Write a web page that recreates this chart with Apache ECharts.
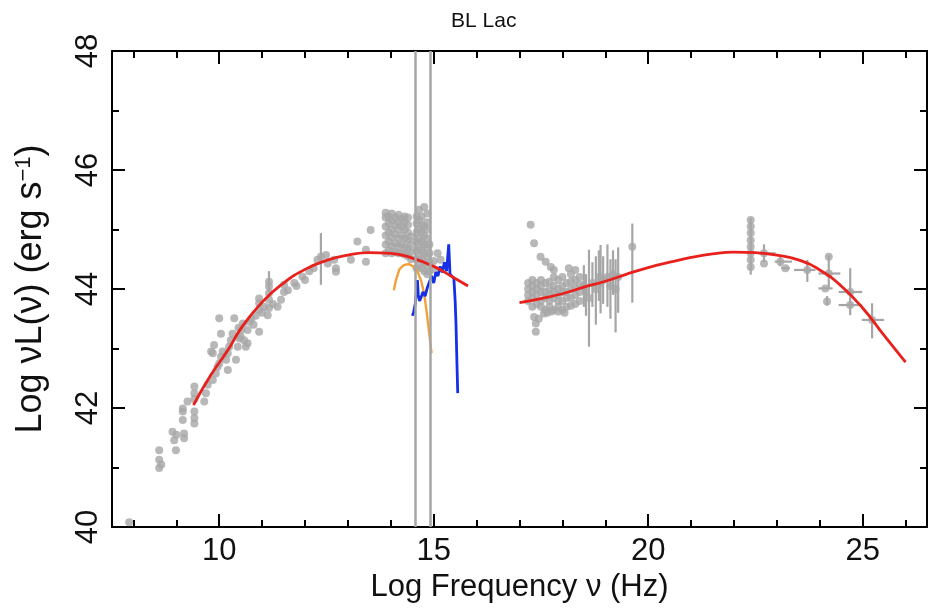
<!DOCTYPE html>
<html>
<head>
<meta charset="utf-8">
<script src="https://cdn.jsdelivr.net/npm/echarts@6/dist/echarts.min.js"></script>
<style>html,body{margin:0;padding:0;background:#fff}#c{width:935px;height:609px}</style>
</head>
<body>
<div id="c"></div>
<script>
// ---- data ----
const chartTitle = 'BL Lac';
const xMajorTicks = [10, 15, 20, 25];
const xMinorTicks = [8, 9, 11, 12, 13, 14, 16, 17, 18, 19, 21, 22, 23, 24, 26];
const yMajorTicks = [40, 42, 44, 46, 48];
const yMinorTicks = [41, 43, 45, 47];

// synchrotron fit (red)
const syncFit = [[9.4,42.05],[9.8,42.55],[10.2,42.97],[10.5,43.33],[11.0,43.78],[11.5,44.1],[12.0,44.33],[12.5,44.48],[13.0,44.57],[13.5,44.61],[14.0,44.6],[14.5,44.52],[15.0,44.38],[15.4,44.22],[15.8,44.05]];
// inverse Compton fit (red)
const icFit = [[17.0,43.77],[17.5,43.84],[18.0,43.92],[18.5,44.03],[19.0,44.13],[19.5,44.25],[20.0,44.36],[20.5,44.45],[21.0,44.53],[21.5,44.59],[22.0,44.62],[22.5,44.61],[23.0,44.57],[23.5,44.49],[24.0,44.32],[24.5,44.05],[25.0,43.68],[25.5,43.22],[26.0,42.77]];
// orange spectrum
const orangeSpec = [[14.07,43.98],[14.12,44.15],[14.2,44.33],[14.3,44.4],[14.42,44.42],[14.52,44.38],[14.62,44.3],[14.7,44.15],[14.77,43.95],[14.83,43.65],[14.88,43.35],[14.92,43.1],[14.95,42.92]];
// blue spectrum
const blueSpec = [[14.5,43.55],[14.53,43.6],[14.57,43.75],[14.6,44.0],[14.62,44.15],[14.64,43.9],[14.67,43.8],[14.7,43.85],[14.75,43.95],[14.8,43.88],[14.85,44.02],[14.9,44.12],[14.95,44.22],[15.0,44.1],[15.05,44.28],[15.1,44.22],[15.15,44.38],[15.2,44.28],[15.25,44.45],[15.3,44.3],[15.35,44.75],[15.38,44.25],[15.42,44.25],[15.47,44.18],[15.5,43.8],[15.52,43.4],[15.54,42.8],[15.56,42.25]];
// vertical grey reference lines
const refLines = [14.57, 14.92];

// grey observed points
const radioPoints = [[7.9,40.08],[8.6,40.99],[8.6,41.13],[8.6,41.29],[8.65,41.05],[8.91,41.6],[8.95,41.46],[8.99,41.29],[9.0,41.55],[9.15,41.8],[9.15,41.94],[9.15,41.99],[9.18,41.49],[9.18,41.57],[9.26,42.11],[9.42,41.74],[9.42,41.83],[9.42,41.94],[9.42,42.15],[9.42,42.25],[9.42,42.36],[9.65,42.11],[9.69,42.25],[9.73,42.39],[9.81,42.95],[9.85,42.47],[9.85,42.92],[9.88,43.06],[9.92,42.58],[9.96,42.69],[10.0,42.75],[10.0,43.51],[10.04,42.86],[10.04,43.25],[10.08,42.95],[10.16,42.81],[10.2,42.92],[10.2,42.64],[10.23,43.03],[10.27,43.14],[10.31,43.25],[10.35,43.51],[10.39,42.81],[10.43,43.03],[10.45,43.35],[10.47,43.17],[10.5,43.2],[10.51,43.31],[10.55,43.42],[10.58,43.14],[10.62,43.03],[10.66,43.31],[10.66,43.09],[10.7,43.45],[10.75,43.5],[10.8,43.4],[10.85,43.55],[10.93,43.28],[10.93,43.65],[10.93,43.76],[10.93,43.84],[11.0,43.6],[11.05,43.7],[11.13,43.56],[11.16,43.68],[11.16,43.82],[11.16,43.93],[11.16,44.04],[11.16,44.12],[11.25,43.75],[11.36,43.7],[11.44,43.82],[11.51,43.95],[11.51,44.07],[11.6,43.98],[11.75,44.1],[11.8,44.05],[11.94,44.21],[12.0,44.15],[12.1,44.3],[12.2,44.35],[12.29,44.49],[12.37,44.54],[12.49,44.57],[12.53,44.43],[12.68,44.49],[12.72,44.35],[12.72,44.29],[13.07,44.49],[13.22,44.8],[13.42,44.66],[13.42,44.46],[13.53,44.99]];
const opticalPoints = [[13.88,44.6],[13.88,44.75],[13.88,44.9],[13.88,45.05],[13.88,45.2],[13.88,45.28],[13.95,44.65],[13.95,44.8],[13.95,44.95],[13.95,45.1],[13.95,45.22],[14.02,44.6],[14.02,44.72],[14.02,44.87],[14.02,45.0],[14.02,45.15],[14.02,45.27],[14.1,44.62],[14.1,44.77],[14.1,44.92],[14.1,45.07],[14.1,45.2],[14.18,44.6],[14.18,44.72],[14.18,44.85],[14.18,45.0],[14.18,45.12],[14.18,45.25],[14.25,44.6],[14.25,44.75],[14.25,44.9],[14.25,45.05],[14.25,45.18],[14.32,44.58],[14.32,44.7],[14.32,44.85],[14.32,45.0],[14.32,45.12],[14.32,45.22],[14.4,44.55],[14.4,44.68],[14.4,44.82],[14.4,44.95],[14.4,45.08],[14.4,45.2],[14.47,44.5],[14.47,44.62],[14.47,44.75],[14.47,44.88],[14.6,44.35],[14.6,44.5],[14.6,44.65],[14.6,44.8],[14.6,44.95],[14.6,45.1],[14.6,45.22],[14.66,44.4],[14.66,44.55],[14.66,44.7],[14.66,44.85],[14.66,45.0],[14.66,45.16],[14.66,45.33],[14.72,44.35],[14.72,44.5],[14.72,44.65],[14.72,44.8],[14.72,44.95],[14.72,45.08],[14.72,45.22],[14.78,44.3],[14.78,44.45],[14.78,44.6],[14.78,44.75],[14.78,44.9],[14.78,45.05],[14.78,45.38],[14.85,44.25],[14.85,44.4],[14.85,44.55],[14.85,44.7],[14.85,44.85],[14.85,45.0],[14.85,45.12],[14.85,45.27],[14.9,44.3],[14.9,44.45],[14.9,44.6],[14.9,44.75],[15.0,44.33],[15.0,44.47],[15.09,44.6],[15.16,44.49]];
const xrayPoints = [[17.26,45.08],[17.34,44.77],[17.49,44.54],[17.61,44.46],[17.73,44.37],[17.8,44.32],[18.15,44.35],[18.3,44.32],[17.2,43.8],[17.2,43.9],[17.2,44.0],[17.2,44.1],[17.3,43.7],[17.3,43.85],[17.3,43.95],[17.3,44.05],[17.3,44.15],[17.4,43.75],[17.4,43.9],[17.4,44.0],[17.4,44.1],[17.5,43.7],[17.5,43.8],[17.5,43.95],[17.5,44.05],[17.5,44.15],[17.6,43.65],[17.6,43.85],[17.6,43.95],[17.6,44.1],[17.7,43.7],[17.7,43.8],[17.7,43.9],[17.7,44.0],[17.7,44.12],[17.8,43.65],[17.8,43.85],[17.8,43.95],[17.8,44.05],[17.8,44.2],[17.9,43.7],[17.9,43.8],[17.9,43.9],[17.9,44.0],[17.9,44.15],[18.0,43.65],[18.0,43.8],[18.0,43.95],[18.0,44.05],[18.0,44.2],[18.1,43.7],[18.1,43.85],[18.1,43.95],[18.1,44.1],[18.2,43.72],[18.2,43.85],[18.2,44.0],[18.2,44.12],[18.2,44.25],[18.3,43.75],[18.3,43.9],[18.3,44.02],[18.3,44.15],[18.4,43.8],[18.4,43.95],[18.4,44.08],[18.4,44.2],[17.34,43.53],[17.38,43.42],[17.38,43.28],[17.45,43.5],[17.57,43.59],[17.65,43.6],[17.75,43.62],[17.9,43.62],[18.05,43.6],[18.5,44.05],[18.55,43.95],[18.62,43.85],[18.7,44.1],[18.78,44.0],[18.85,44.2],[18.89,44.1],[18.95,44.15],[19.05,44.2],[19.12,44.05],[19.18,44.25],[19.24,44.0],[19.3,44.2],[19.63,44.71]];
const gammaPoints = [[22.39,45.16],[22.39,45.05],[22.39,44.94],[22.39,44.82],[22.39,44.71],[22.39,44.6],[22.39,44.49],[22.39,44.37],[22.7,44.6],[22.7,44.43],[23.08,44.46],[23.2,44.35],[23.71,44.32],[24.21,44.26],[24.21,44.54],[24.13,44.01],[24.17,43.79],[24.71,43.95],[24.71,43.73],[25.22,43.48]];
// vertical error bars: [x, low, high]
const yErrBars = [[12.37,44.07,44.94],[11.16,43.95,44.3],[18.5,43.7,44.4],[18.55,43.55,44.25],[18.62,43.03,44.66],[18.7,43.7,44.45],[18.78,43.4,44.55],[18.85,43.8,44.65],[18.89,43.59,44.74],[18.95,43.75,44.55],[19.05,43.7,44.75],[19.12,43.5,44.5],[19.18,43.9,44.65],[19.24,43.27,44.5],[19.3,43.6,44.7],[19.63,43.77,45.1],[22.39,44.24,45.19],[22.7,44.45,44.75],[23.08,44.38,44.55],[23.71,44.12,44.49],[24.21,44.01,44.57],[24.17,43.72,43.88],[24.71,43.56,44.35],[25.22,43.17,43.76]];
// horizontal error bars: [y, low, high]
const xErrBars = [[44.6,22.57,22.97],[44.46,22.95,23.35],[44.35,23.1,23.3],[44.32,23.4,23.9],[44.26,23.97,24.48],[44.01,23.97,24.3],[43.95,24.44,24.99],[43.73,24.44,24.99],[43.48,24.98,25.5]];

// ---- chart ----
const FONT = '"Liberation Sans", Arial, sans-serif';
const GREY = '#a6a6a6';
const chart = echarts.init(document.getElementById('c'), null, {renderer: 'canvas'});

function xAxisDef(pos, major, withLabels) {
  return {
    type: 'value', position: pos, min: 7.5, max: 26.5,
    axisLine: {show: major, onZero: false, lineStyle: {color: '#000', width: 2}},
    axisTick: {show: true, inside: true, length: major ? 13 : 7, lineStyle: {color: '#000', width: 2},
               customValues: major ? xMajorTicks : xMinorTicks},
    axisLabel: withLabels ? {show: true, customValues: xMajorTicks, margin: 9, fontSize: 31, color: '#111', fontFamily: FONT}
                          : {show: false},
    splitLine: {show: false},
    name: withLabels ? 'Log Frequency \u03bd (Hz)' : '',
    nameLocation: 'middle', nameGap: 39,
    nameTextStyle: {fontSize: 31, color: '#111', fontFamily: FONT}
  };
}
function yAxisDef(pos, major, withLabels) {
  return {
    type: 'value', position: pos, min: 40, max: 48,
    axisLine: {show: major, onZero: false, lineStyle: {color: '#000', width: 2}},
    axisTick: {show: true, inside: true, length: major ? 13 : 7, lineStyle: {color: '#000', width: 2},
               customValues: major ? yMajorTicks : yMinorTicks},
    axisLabel: withLabels ? {show: true, customValues: yMajorTicks, rotate: 90, margin: 8, fontSize: 31, color: '#111', fontFamily: FONT}
                          : {show: false},
    splitLine: {show: false},
    name: withLabels ? 'Log \u03bdL(\u03bd) (erg s{sup|\u22121})' : '',
    nameLocation: 'middle', nameGap: 63, nameRotate: 90,
    nameTextStyle: {fontSize: 36, color: '#111', fontFamily: FONT,
      rich: {sup: {fontSize: 22, color: '#111', fontFamily: FONT, verticalAlign: 'top'}}}
  };
}

const errItem = (vertical) => function (params, api) {
  let p1, p2;
  if (vertical) {
    p1 = api.coord([api.value(0), api.value(1)]);
    p2 = api.coord([api.value(0), api.value(2)]);
  } else {
    p1 = api.coord([api.value(1), api.value(0)]);
    p2 = api.coord([api.value(2), api.value(0)]);
  }
  return {type: 'line', shape: {x1: p1[0], y1: p1[1], x2: p2[0], y2: p2[1]}, style: {stroke: GREY, lineWidth: 2.2}};
};

const allGrey = radioPoints.concat(opticalPoints, xrayPoints, gammaPoints);

chart.setOption({
  animation: false,
  backgroundColor: '#fff',
  title: {text: chartTitle, left: 446, top: 6, textStyle: {fontSize: 21, fontWeight: 'normal', color: '#111', fontFamily: FONT}},
  grid: {left: 112, right: 8, top: 51, bottom: 82, containLabel: false, outerBoundsMode: 'none'},
  xAxis: [xAxisDef('bottom', true, true), xAxisDef('bottom', false, false), xAxisDef('top', true, false), xAxisDef('top', false, false)],
  yAxis: [yAxisDef('left', true, true), yAxisDef('left', false, false), yAxisDef('right', true, false), yAxisDef('right', false, false)],
  series: [
    {type: 'line', data: [], xAxisIndex: 0, yAxisIndex: 0, silent: true,
     markLine: {silent: true, symbol: 'none', label: {show: false}, lineStyle: {color: GREY, width: 2.5, type: 'solid'},
                data: refLines.map(v => ({xAxis: v}))}},
    {type: 'custom', renderItem: errItem(true), data: yErrBars, encode: {x: 0, y: [1, 2]}, clip: true, silent: true},
    {type: 'custom', renderItem: errItem(false), data: xErrBars, encode: {y: 0, x: [1, 2]}, clip: true, silent: true},
    {type: 'scatter', data: allGrey, symbol: 'circle', symbolSize: 8, itemStyle: {color: GREY}, silent: true, clip: true},
    {type: 'line', data: orangeSpec, showSymbol: false, lineStyle: {color: '#f2a03a', width: 2.4}, silent: true},
    {type: 'line', data: blueSpec, showSymbol: false, lineStyle: {color: '#1530e6', width: 2.8}, silent: true},
    {type: 'line', data: syncFit, showSymbol: false, smooth: true, lineStyle: {color: '#e8211d', width: 2.8}, silent: true},
    {type: 'line', data: icFit, showSymbol: false, smooth: true, lineStyle: {color: '#e8211d', width: 2.8}, silent: true}
  ]
});
</script>
</body>
</html>
